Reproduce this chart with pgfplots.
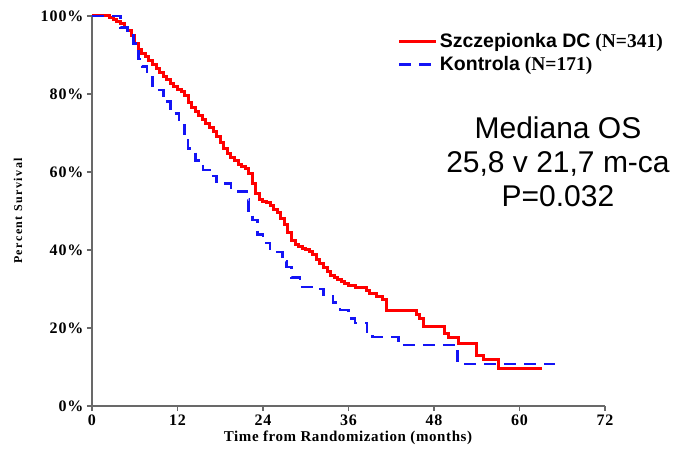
\documentclass[border=0pt]{standalone}
\usepackage{fontspec}
\setmainfont{Liberation Serif}
\newfontfamily\arial{Liberation Sans}
\usepackage{pgfplots}
\pgfplotsset{compat=1.18}
\definecolor{kmred}{RGB}{255,0,0}
\definecolor{kmblue}{RGB}{20,20,245}
\definecolor{axgray}{RGB}{105,105,105}

\begin{document}
\begin{tikzpicture}
\path[use as bounding box] (-92bp,-44bp) rectangle (586bp,406bp);
\begin{axis}[
at={(0,0)},anchor=south west,
scale only axis,width=513bp,height=390bp,
xmin=0,xmax=72,ymin=0,ymax=100,
axis x line=bottom,axis y line=left,
axis line style={-,axgray,line width=1.4bp},
tick style={axgray,line width=1.2bp},
major tick length=5bp,tick align=outside,
xtick={0,12,24,36,48,60,72},
ytick={0,20,40,60,80,100},
yticklabel={\pgfmathprintnumber{\tick}\%},
/pgf/number format/assume math mode=true,
ticklabel style={font=\fontsize{16bp}{18bp}\selectfont\bfseries\addfontfeatures{LetterSpace=6}},
xlabel={Time from Randomization (months)},
ylabel={Percent Survival},
xlabel style={font=\fontsize{15bp}{17bp}\selectfont\bfseries\addfontfeatures{LetterSpace=4},at={(axis description cs:0.499,-0.082)},anchor=center},
ylabel style={font=\fontsize{12bp}{14bp}\selectfont\bfseries\addfontfeatures{LetterSpace=12},at={(axis description cs:-0.144,0.5)},anchor=center,rotate=0},
legend style={draw=none,fill=none,at={(rel axis cs:0.59,0.965)},anchor=north west,
  font=\fontsize{19.5bp}{22bp}\selectfont\bfseries,cells={anchor=west},row sep=3bp},
legend image code/.code={\draw[#1] (0bp,0bp) -- (37bp,0bp);},
clip=false]
\addplot[const plot,kmred,line width=3bp] coordinates {
(0,100) (2,100) (2.5,99.5) (3,99) (3.5,98.5) (4,98) (4.5,97) (5,96.2) (5.5,95) (6,93)
(6.5,91.5) (7,90.5) (7.5,89.5) (8,88.5) (8.5,87.5) (9,86.5) (9.5,85.5) (10,84.5) (10.5,83.6) (11,82.8)
(11.5,82) (12,81.2) (12.5,80.6) (13,79.5) (13.5,77.8) (14,76.5) (14.5,75.5) (15,74.5) (15.5,73.5) (16,72.5)
(16.5,71.5) (17,70.5) (17.5,69) (18,67.5) (18.5,66) (19,64.8) (19.5,63.8) (20,63) (20.5,62) (21,61.5)
(21.5,61) (22,59.5) (22.5,57) (23,54.5) (23.5,53) (24,52.5) (24.5,52.2) (25,51.5) (25.5,50.5) (26,49.5)
(26.5,48.2) (27,46.5) (27.5,44.5) (28,42.5) (28.5,41.5) (29,41) (29.5,40.5) (30,40) (30.5,39.5) (31,38.8)
(31.5,37.5) (32,36.5) (32.5,35.5) (33,34.5) (33.5,33.5) (34,33) (34.5,32.5) (35,32) (35.5,31.5) (36,31)
(37,30.5) (38,30.3) (38.5,29.5) (39,28.8) (40,28.2) (40.8,27.2) (41.4,24.6) (45,24.6) (45.5,23.5) (46,22.5)
(46.5,20.5) (49,20.5) (49.5,18.5) (50,17.5) (51.5,16) (54,13) (55,12) (57,9.5) (63.2,9.5)};
\addlegendentry{{\arial Szczepionka DC} (N=341)}
\addplot[const plot,kmblue,line width=2.6bp,dash pattern=on 12bp off 8bp] coordinates {
(0,100) (3,100) (4,97) (5,95) (5.8,93) (6.5,89) (7,87) (7.7,84.4) (8.5,82) (9.1,81)
(10,78) (11,75) (12.2,72) (13,68) (13.5,66) (14.5,63) (15.6,60.5) (16.5,59) (17.5,57) (19.5,56)
(20.5,55) (21.7,53) (22,50) (22.5,47.7) (23.2,44) (24,41.8) (25,40) (26,39.5) (26.7,37) (27.3,35.6)
(28,33) (29.2,30.5) (31.6,30) (32.5,28.5) (33.8,26.5) (34.8,24.6) (36,22.5) (36.9,21.3) (38.6,19) (39.4,17.7)
(43,15.6) (51.3,10.8) (65,10.8)};
\addlegendentry{{\arial Kontrola} (N=171)}
\node[align=center,font=\arial\fontsize{30bp}{34bp}\selectfont] at (axis cs:65.4,62.5) {Mediana OS\\25,8 v 21,7 m-ca\\P=0.032};
\end{axis}
\end{tikzpicture}
\end{document}
